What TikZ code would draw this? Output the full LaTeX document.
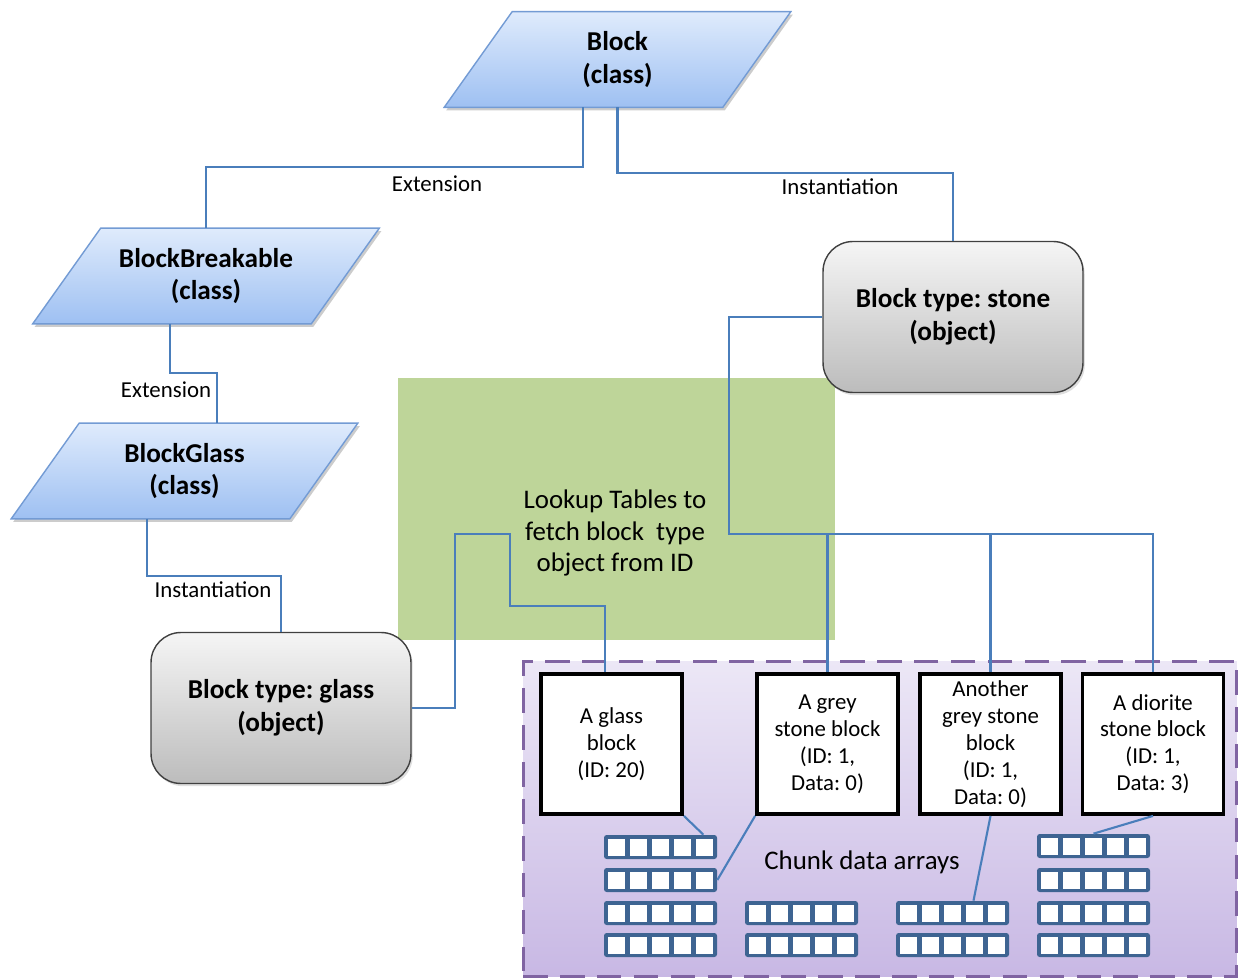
\documentclass[tikz,border=0pt]{standalone}
\usepackage{fontspec}
\setmainfont{Carlito}
\usepackage{tikz}
\usetikzlibrary{calc,shadows,backgrounds}
\frenchspacing

\definecolor{linkblue}{RGB}{74,126,187}
\definecolor{clsline}{RGB}{115,155,212}
\definecolor{clstop}{RGB}{223,235,252}
\definecolor{clsbot}{RGB}{158,192,242}
\definecolor{objline}{RGB}{64,64,64}
\definecolor{objtop}{RGB}{245,245,245}
\definecolor{objbot}{RGB}{188,188,188}
\definecolor{lookupgreen}{RGB}{190,213,153}
\definecolor{chunkline}{RGB}{128,100,162}
\definecolor{chunktop}{RGB}{236,231,246}
\definecolor{chunkbot}{RGB}{200,184,228}
\definecolor{arrblue}{RGB}{62,100,146}

\tikzset{
  cls/.style={rectangle, minimum width=6.92cm, minimum height=1.9cm, inner sep=0pt,
    align=center, font=\fontsize{15.5}{18.7}\selectfont\bfseries},
  obj/.style={rectangle, rounded corners=17pt, minimum width=5.2cm, minimum height=3.02cm,
    draw=objline, line width=0.8pt, top color=objtop, bottom color=objbot,
    drop shadow={opacity=0.25, shadow xshift=1pt, shadow yshift=-1.5pt},
    align=center, font=\fontsize{15.5}{18.7}\selectfont\bfseries},
  inst/.style={rectangle, draw=black, line width=2.2pt, fill=white, inner sep=0pt,
    minimum width=2.82cm, minimum height=2.8cm, align=center,
    font=\fontsize{13}{15.3}\selectfont},
  arr/.style={rectangle, fill=arrblue, rounded corners=1.5pt, inner sep=0pt,
    minimum width=2.26cm, minimum height=0.48cm},
  link/.style={draw=linkblue, line width=1.2pt},
  lbl/.style={font=\fontsize{13}{15}\selectfont},
  bigtxt/.style={align=center, font=\fontsize{15.3}{18}\selectfont}
}

\begin{document}
\begin{tikzpicture}[x=0.02cm, y=-0.02cm]
\useasboundingbox (0,0) rectangle (1239,979);

% background regions
\node[fill=lookupgreen, minimum width=8.74cm, minimum height=5.24cm] (lookup) at (616.5,509) {};
\node[draw=chunkline, line width=1.7pt, dash pattern=on 14pt off 7pt,
  top color=chunktop, bottom color=chunkbot,
  minimum width=14.28cm, minimum height=6.32cm] (chunks) at (880,819) {};

% classes
\node[cls] (block) at (617.5,59.5) {Block\\(class)};
\node[cls] (breakable) at (206,276) {BlockBreakable\\(class)};
\node[cls] (glasscls) at (184.5,471) {BlockGlass\\(class)};

% parallelograms behind the class names
\begin{scope}[on background layer]
\foreach \c in {block,breakable,glasscls} {
  \fill[black, opacity=0.2] ($(\c.south west)+(2,3)$) -- ($(\c.south east)+(-66,3)$)
    -- ($(\c.north east)+(2,3)$) -- ($(\c.north west)+(70,3)$) -- cycle;
  \shade[top color=clstop, bottom color=clsbot, draw=clsline, line width=0.8pt]
    (\c.south west) -- ($(\c.south east)+(-68,0)$)
    -- (\c.north east) -- ($(\c.north west)+(68,0)$) -- cycle;
}
\end{scope}

% objects
\node[obj] (stone) at (953,317) {Block type: stone\\(object)};
\node[obj] (glassobj) at (281,708) {Block type: glass\\(object)};

% block instances in the chunk
\node[inst] (glassbox) at (611.5,744) {A glass\\block\\(ID: 20)};
\node[inst] (greybox) at (827.5,744) {A grey\\stone block\\(ID: 1,\\Data: 0)};
\node[inst] (anotherbox) at (990.5,744) {Another\\grey stone\\block\\(ID: 1,\\Data: 0)};
\node[inst] (dioritebox) at (1153,744) {A diorite\\stone block\\(ID: 1,\\Data: 3)};

% texts
\node[bigtxt] (lookuptext) at (615,533) {Lookup Tables to\\fetch block\ \ type\\object from ID};
\node[bigtxt] (chunktext) at (862,862) {Chunk data arrays};
\node[lbl] (ext1) at (437,184) {Extension};
\node[lbl] (inst1) at (840,187) {Instantiation};
\node[lbl] (ext2) at (166,390) {Extension};
\node[lbl] (inst2) at (213,590) {Instantiation};

% chunk data arrays
\foreach \n/\x/\y in {a1/660.5/847, a2/660.5/880, a3/660.5/913, a4/660.5/945,
                      b1/801.5/913, b2/801.5/945,
                      c1/952.5/913, c2/952.5/945,
                      d1/1093.5/846, d2/1093.5/880, d3/1093.5/913, d4/1093.5/945}
{
  \node[arr] (\n) at (\x,\y) {};
  \foreach \k in {-2,-1,0,1,2}
    \fill[white] ($(\n.center)+(\k*22-8.5,-8.5)$) rectangle ++(17,17);
}

% class links
\draw[link] ($(block.south west)+(138.5,0)$) -- ++(0,60) -| (breakable.north);
\draw[link] (block.south) -- ++(0,66) -| (stone.north);
\draw[link] ($(breakable.south west)+(137,0)$) -- ++(0,49) -| ($(glasscls.north west)+(206,0)$);
\draw[link] ($(glasscls.south west)+(136,0)$) -- ++(0,57) -| (glassobj.north);

% lookup links
\coordinate (gtap) at ($(glassbox.north)+(-6.5,0)$);
\draw[link] (glassobj.east) -- ++(43,0) |- (510,534) -- (510,606) -| (gtap);
\coordinate (bus) at (729,534);
\draw[link] (stone.west) -| (bus) -- (bus -| dioritebox.north) -- (dioritebox.north);
\draw[link] (bus -| greybox.north) -- (greybox.north);
\draw[link] (bus -| anotherbox.north) -- (anotherbox.north);

% data links
\draw[link] (glassbox.south east) -- ($(a1.north east)+(-14,0)$);
\draw[link] (greybox.south west) -- (a2.east);
\draw[link] (anotherbox.south) -- ($(c1.north)+(21,0)$);
\draw[link] (dioritebox.south) -- (d1.north);
\end{tikzpicture}
\end{document}
